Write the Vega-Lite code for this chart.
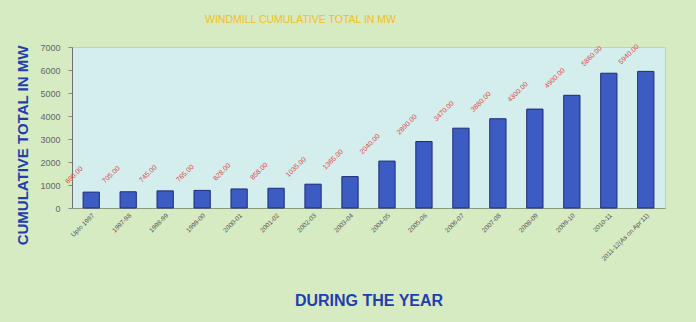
{
  "$schema": "https://vega.github.io/schema/vega-lite/v6.json",
  "width": 593,
  "height": 161,
  "autosize": {"type": "none"},
  "padding": {"left": 72, "top": 47, "right": 31, "bottom": 114},
  "background": "#d7ebc3",
  "title": {
    "text": "WINDMILL CUMULATIVE TOTAL  IN MW",
    "anchor": "middle",
    "frame": "group",
    "dx": -68,
    "offset": 17,
    "font": "Liberation Sans",
    "fontSize": 10.5,
    "fontWeight": "normal",
    "color": "#f0c020"
  },
  "data": {
    "values": [
      {"year": "Upto 1997", "mw": 690.0},
      {"year": "1997-98", "mw": 705.0},
      {"year": "1998-99", "mw": 745.0},
      {"year": "1999-00", "mw": 765.0},
      {"year": "2000-01", "mw": 828.0},
      {"year": "2001-02", "mw": 858.0},
      {"year": "2002-03", "mw": 1035.0},
      {"year": "2003-04", "mw": 1365.0},
      {"year": "2004-05", "mw": 2040.0},
      {"year": "2005-06", "mw": 2890.0},
      {"year": "2006-07", "mw": 3470.0},
      {"year": "2007-08", "mw": 3880.0},
      {"year": "2008-09", "mw": 4300.0},
      {"year": "2009-10", "mw": 4900.0},
      {"year": "2010-11", "mw": 5860.0},
      {"year": "2011-12(As on Apr'11)", "mw": 5940.0}
    ]
  },
  "encoding": {
    "x": {
      "field": "year",
      "type": "nominal",
      "sort": null,
      "scale": {"paddingInner": 0.56, "paddingOuter": 0.3},
      "axis": {
        "title": "DURING THE YEAR",
        "titleFont": "Liberation Sans",
        "titleFontSize": 16,
        "titleFontWeight": "bold",
        "titleColor": "#1f3fae",
        "titleY": 92,
        "titleBaseline": "middle",
        "labelAngle": -45,
        "labelFont": "Liberation Sans",
        "labelFontSize": 6.5,
        "labelColor": "#555555",
        "labelPadding": 4,
        "labelLimit": 200,
        "ticks": false,
        "domainColor": "#8a9a7a",
        "domainWidth": 1
      }
    },
    "y": {
      "field": "mw",
      "type": "quantitative",
      "scale": {"domain": [0, 7000]},
      "axis": {
        "title": "CUMULATIVE TOTAL IN MW",
        "titleFont": "Liberation Sans",
        "titleFontSize": 15,
        "titleFontWeight": "bold",
        "titleColor": "#1f3fae",
        "titleX": -50,
        "titleY": 98,
        "titleAlign": "center",
        "titleBaseline": "middle",
        "values": [0, 1000, 2000, 3000, 4000, 5000, 6000, 7000],
        "format": "d",
        "grid": false,
        "labelFont": "Liberation Sans",
        "labelFontSize": 9,
        "labelColor": "#666666",
        "labelPadding": 8,
        "tickSize": 4,
        "tickColor": "#888888",
        "domainColor": "#707070"
      }
    }
  },
  "layer": [
    {
      "mark": {"type": "bar", "color": "#3c5cc4", "stroke": "#1c2b78", "strokeWidth": 1}
    },
    {
      "mark": {
        "type": "text",
        "angle": -45,
        "align": "center",
        "baseline": "middle",
        "dy": -24,
        "font": "Liberation Sans",
        "fontSize": 7,
        "color": "#e04848"
      },
      "encoding": {
        "text": {"field": "mw", "type": "quantitative", "format": ".2f"}
      }
    }
  ],
  "config": {
    "view": {"fill": "#d3eeec", "stroke": "#b9d3d0"}
  }
}
